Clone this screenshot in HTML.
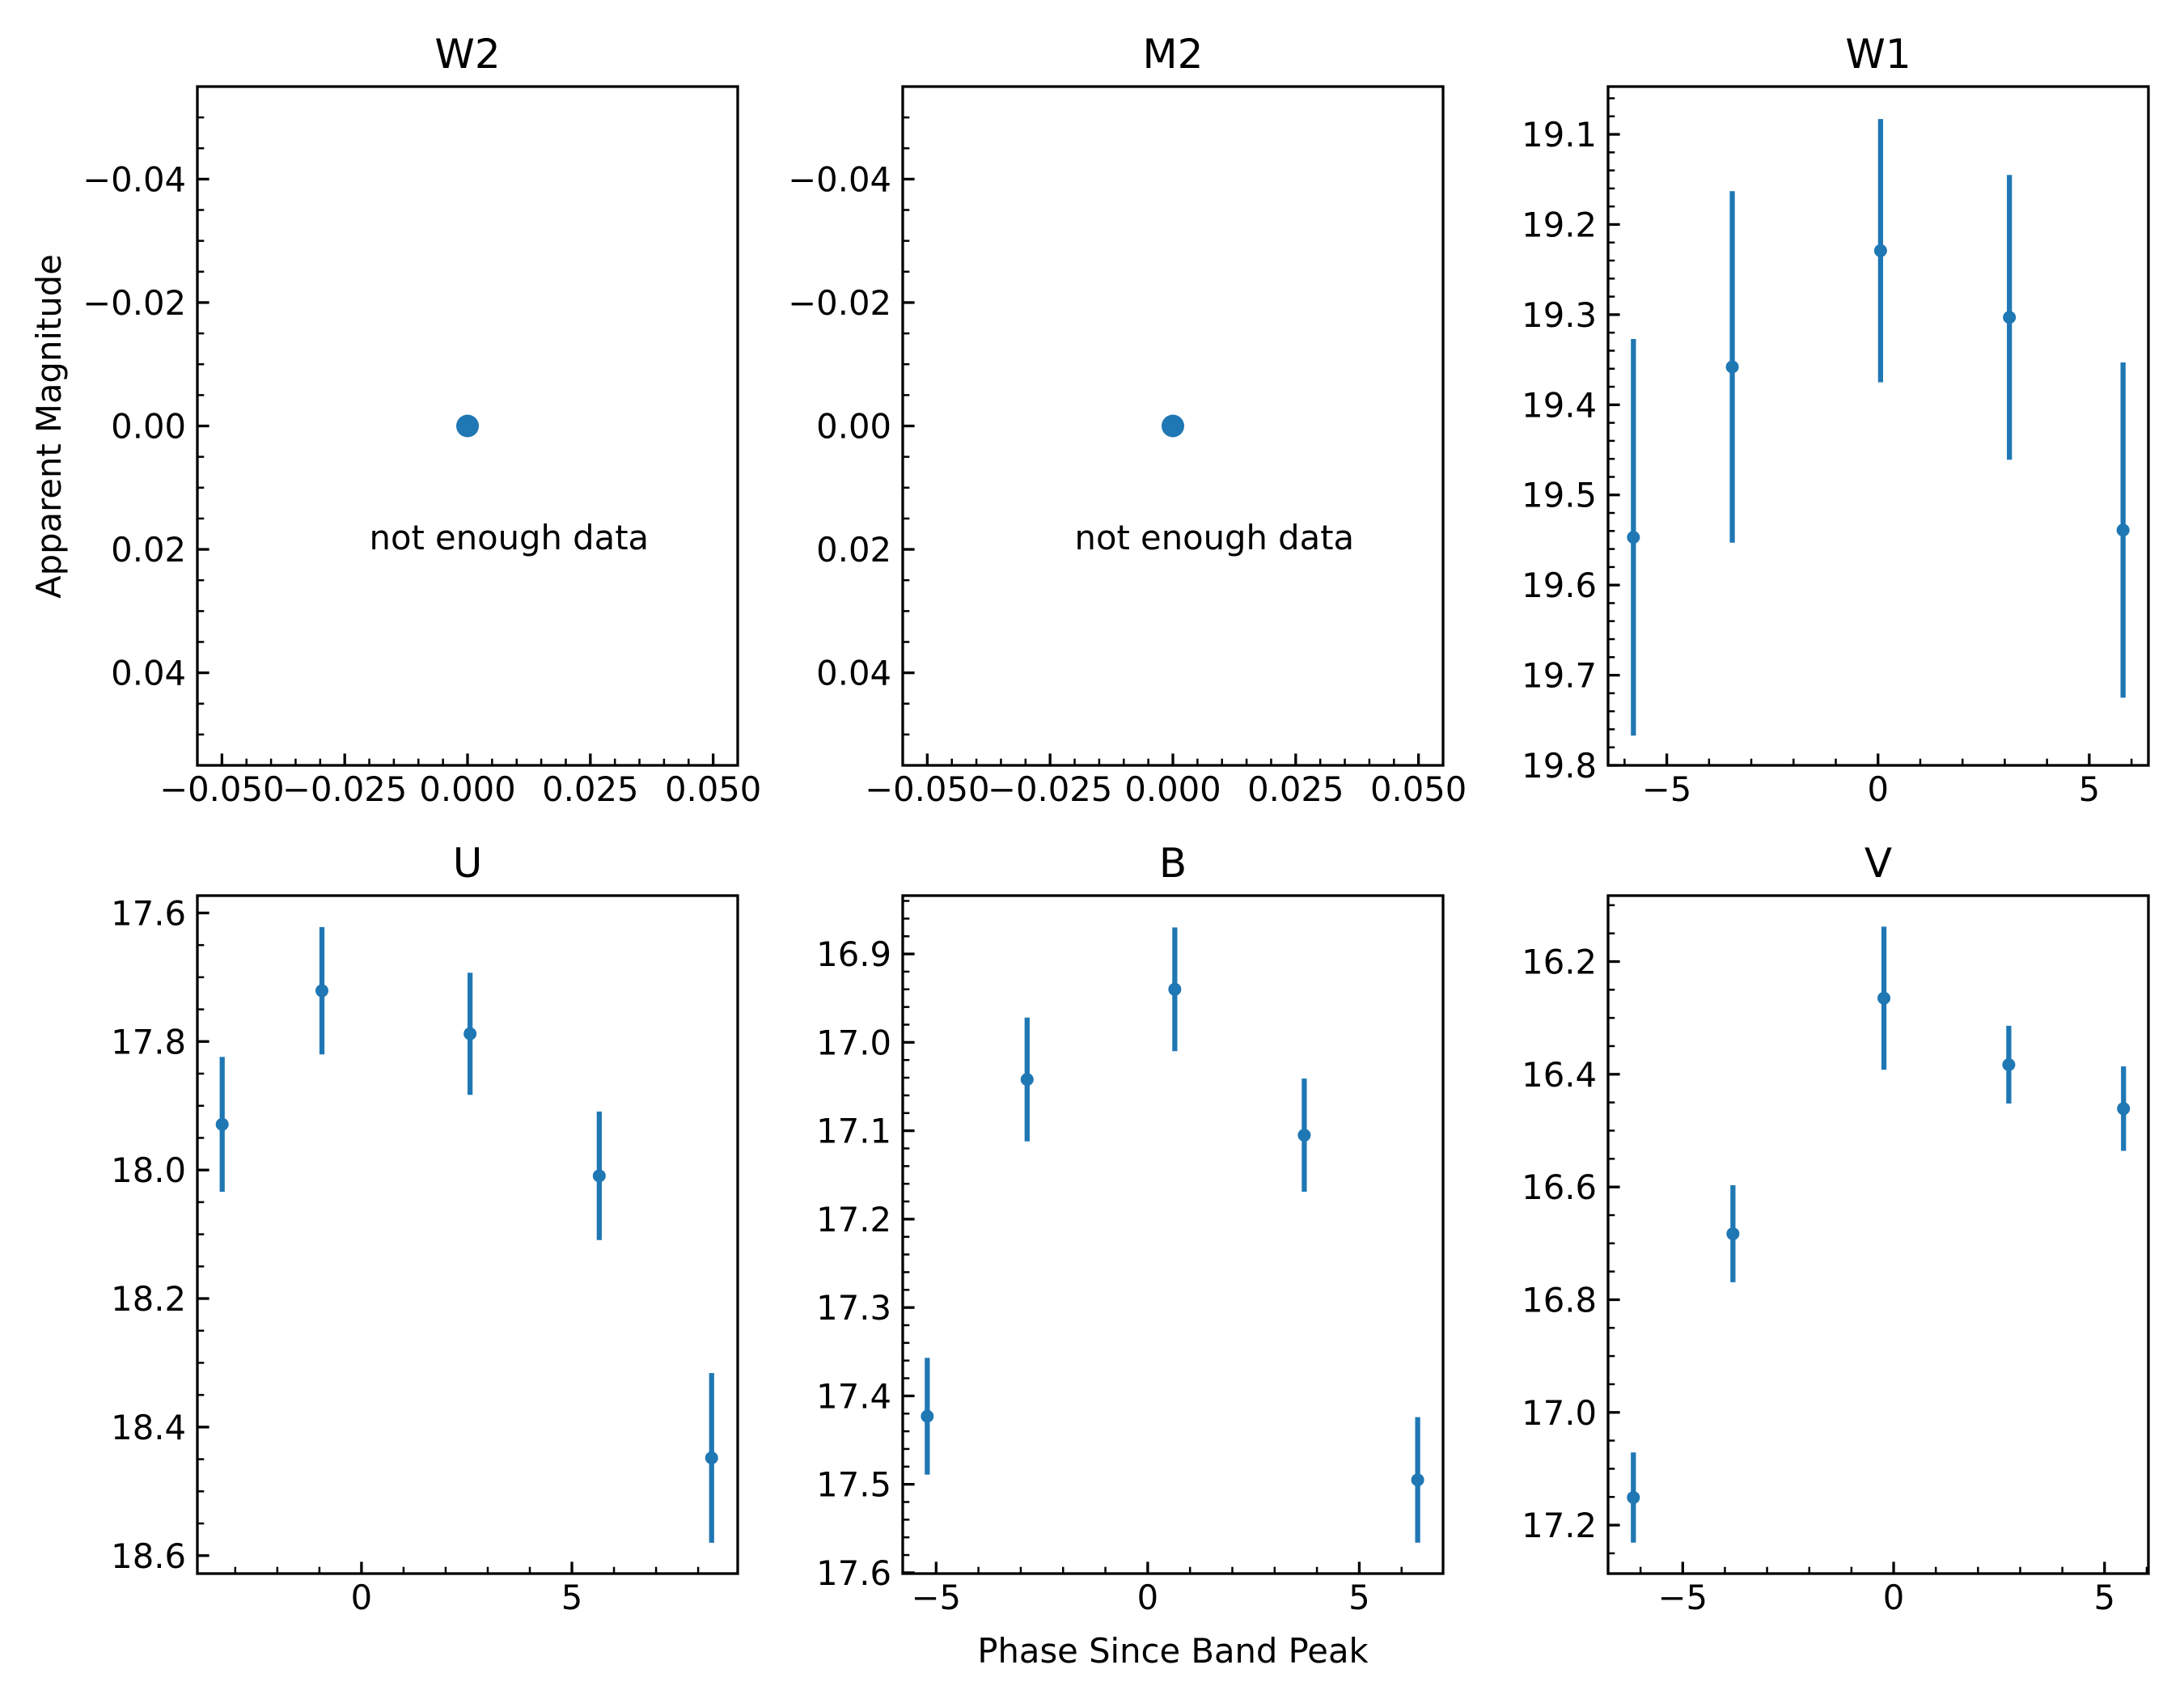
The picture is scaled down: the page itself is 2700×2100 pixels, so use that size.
<!DOCTYPE html>
<html><head><meta charset="utf-8">
<style>
html,body{margin:0;padding:0;background:#fff;}
svg{display:block;font-family:"DejaVu Sans","Liberation Sans",sans-serif;}
</style></head>
<body>
<svg id="fig" width="2700" height="2100" viewBox="0 0 2700 2100" xmlns="http://www.w3.org/2000/svg">
<rect width="2700" height="2100" fill="#fff"/>
<text x="0" y="0" transform="translate(75,527) rotate(-90)" font-size="41.7" text-anchor="middle">Apparent Magnitude</text>
<text x="1450" y="2055" font-size="41.7" text-anchor="middle">Phase Since Band Peak</text>
</svg>
<script>
// W1
const w1Phase = [-5.79, -3.45, 0.06, 3.11, 5.80];
const w1Mag = [19.547, 19.358, 19.229, 19.303, 19.539];
const w1Err = [0.22, 0.195, 0.146, 0.158, 0.186];
// U
const uPhase = [-3.31, -0.94, 2.58, 5.65, 8.32];
const uMag = [17.929, 17.721, 17.788, 18.009, 18.448];
const uErr = [0.105, 0.099, 0.095, 0.10, 0.132];
// B
const bPhase = [-5.21, -2.85, 0.64, 3.70, 6.38];
const bMag = [17.423, 17.042, 16.940, 17.105, 17.495];
const bErr = [0.066, 0.07, 0.07, 0.064, 0.071];
// V
const vPhase = [-6.17, -3.81, -0.23, 2.73, 5.45];
const vMag = [17.151, 16.683, 16.265, 16.383, 16.461];
const vErr = [0.08, 0.086, 0.127, 0.069, 0.075];
// W2 / M2 single placeholder point
const emptyPhase = [0];
const emptyMag = [0];

const w2YTicks = [-0.04, -0.02, 0.00, 0.02, 0.04];
const w2XTicks = [-0.05, -0.025, 0, 0.025, 0.05];
const w1YTicks = [19.1, 19.2, 19.3, 19.4, 19.5, 19.6, 19.7, 19.8];
const uYTicks = [17.6, 17.8, 18.0, 18.2, 18.4, 18.6];
const bYTicks = [16.9, 17.0, 17.1, 17.2, 17.3, 17.4, 17.5, 17.6];
const vYTicks = [16.2, 16.4, 16.6, 16.8, 17.0, 17.2];
const phaseXTicks = [-5, 0, 5];

const NS = "http://www.w3.org/2000/svg";
const svg = document.getElementById('fig');
const C = "#1f77b4";
function el(tag, attrs, parent){
  const e = document.createElementNS(NS, tag);
  for (const k in attrs) e.setAttribute(k, attrs[k]);
  (parent||svg).appendChild(e);
  return e;
}
function fmt(v, d){ const s = Math.abs(v).toFixed(d); return (v < -1e-12 ? "\u2212" : "") + s; }

function panel(o){
  const g = el('g', {});
  
  
  const X = v => o.x0 + (v - o.xlim[0]) / (o.xlim[1] - o.xlim[0]) * (o.x1 - o.x0);
  const Y = v => o.y0 + (v - o.ylim[0]) / (o.ylim[1] - o.ylim[0]) * (o.y1 - o.y0);
  const t = el('text', {x:(o.x0+o.x1)/2, y:o.y0-23, 'font-size':50, 'text-anchor':'middle'}, g);
  t.textContent = o.title;
  
  
  const ymin = Math.min(o.ylim[0], o.ylim[1]), ymax = Math.max(o.ylim[0], o.ylim[1]);
  for (let k = Math.ceil(ymin/o.yMinor - 1e-6); k*o.yMinor <= ymax + 1e-9; k++){
    const yy = Y(k*o.yMinor);
    el('line', {x1:o.x0, x2:o.x0+8.3, y1:yy, y2:yy, stroke:'#000','stroke-width':2.5}, g);
  }
  for (let k = Math.ceil(o.xlim[0]/o.xMinor - 1e-6); k*o.xMinor <= o.xlim[1] + 1e-9; k++){
    const xx = X(k*o.xMinor);
    el('line', {x1:xx, x2:xx, y1:o.y1, y2:o.y1-8.3, stroke:'#000','stroke-width':2.5}, g);
  }
  o.yTicks.forEach(v => {
    if (v < ymin - 1e-9 || v > ymax + 1e-9) return;
    const yy = Y(v);
    el('line', {x1:o.x0, x2:o.x0+14.6, y1:yy, y2:yy, stroke:'#000','stroke-width':3.3}, g);
    const tl = el('text', {x:o.x0-14, y:yy+15, 'font-size':41.7, 'text-anchor':'end'}, g);
    tl.textContent = fmt(v, o.yDec);
    
    
  });
  o.xTicks.forEach(v => {
    if (v < o.xlim[0] - 1e-9 || v > o.xlim[1] + 1e-9) return;
    const xx = X(v);
    el('line', {x1:xx, x2:xx, y1:o.y1, y2:o.y1-14.6, stroke:'#000','stroke-width':3.3}, g);
    const tl = el('text', {x:xx, y:o.y1+44, 'font-size':41.7, 'text-anchor':'middle'}, g);
    tl.textContent = fmt(v, o.xDec);
    
    
  });
  o.px.forEach((p, i) => {
    if (o.err) {
      const eb = el('line', {x1:X(p), x2:X(p), y1:Y(o.py[i]-o.err[i]), y2:Y(o.py[i]+o.err[i]), stroke:C,'stroke-width':6.25}, g);
      
      
    }
    const c = el('circle', {cx:X(p), cy:Y(o.py[i]), r:o.r, fill:C}, g);
    
    
  });
  if (o.note){
    const n = el('text', {x:X(-0.02), y:Y(0.02), 'font-size':41.7}, g);
    n.textContent = 'not enough data';
    
    
  }
  el('rect', {x:o.x0, y:o.y0, width:o.x1-o.x0, height:o.y1-o.y0, fill:'none', stroke:'#000','stroke-width':3.3}, g);
}

const R1 = [107, 946], R2 = [1107, 1945];
const C1 = [244, 912], C2 = [1116, 1784], C3 = [1988, 2656];

panel({name:'w2', title:'W2', x0:C1[0], x1:C1[1], y0:R1[0], y1:R1[1], xlim:[-0.055,0.055], ylim:[-0.055,0.055],
  yTicks:w2YTicks, xTicks:w2XTicks, yDec:2, xDec:3, yMinor:0.005, xMinor:0.005, px:emptyPhase, py:emptyMag, r:14, note:true});
panel({name:'m2', title:'M2', x0:C2[0], x1:C2[1], y0:R1[0], y1:R1[1], xlim:[-0.055,0.055], ylim:[-0.055,0.055],
  yTicks:w2YTicks, xTicks:w2XTicks, yDec:2, xDec:3, yMinor:0.005, xMinor:0.005, px:emptyPhase, py:emptyMag, r:14, note:true});
panel({name:'w1', title:'W1', x0:C3[0], x1:C3[1], y0:R1[0], y1:R1[1], xlim:[-6.39,6.40], ylim:[19.047,19.8],
  yTicks:w1YTicks, xTicks:phaseXTicks, yDec:1, xDec:0, yMinor:0.02, xMinor:1, px:w1Phase, py:w1Mag, err:w1Err, r:8});
panel({name:'u', title:'U', x0:C1[0], x1:C1[1], y0:R2[0], y1:R2[1], xlim:[-3.90,8.94], ylim:[17.573,18.628],
  yTicks:uYTicks, xTicks:phaseXTicks, yDec:1, xDec:0, yMinor:0.05, xMinor:1, px:uPhase, py:uMag, err:uErr, r:8});
panel({name:'b', title:'B', x0:C2[0], x1:C2[1], y0:R2[0], y1:R2[1], xlim:[-5.79,6.98], ylim:[16.834,17.601],
  yTicks:bYTicks, xTicks:phaseXTicks, yDec:1, xDec:0, yMinor:0.02, xMinor:1, px:bPhase, py:bMag, err:bErr, r:8});
panel({name:'v', title:'V', x0:C3[0], x1:C3[1], y0:R2[0], y1:R2[1], xlim:[-6.77,6.04], ylim:[16.083,17.286],
  yTicks:vYTicks, xTicks:phaseXTicks, yDec:1, xDec:0, yMinor:0.05, xMinor:1, px:vPhase, py:vMag, err:vErr, r:8});
</script>
</body></html>
